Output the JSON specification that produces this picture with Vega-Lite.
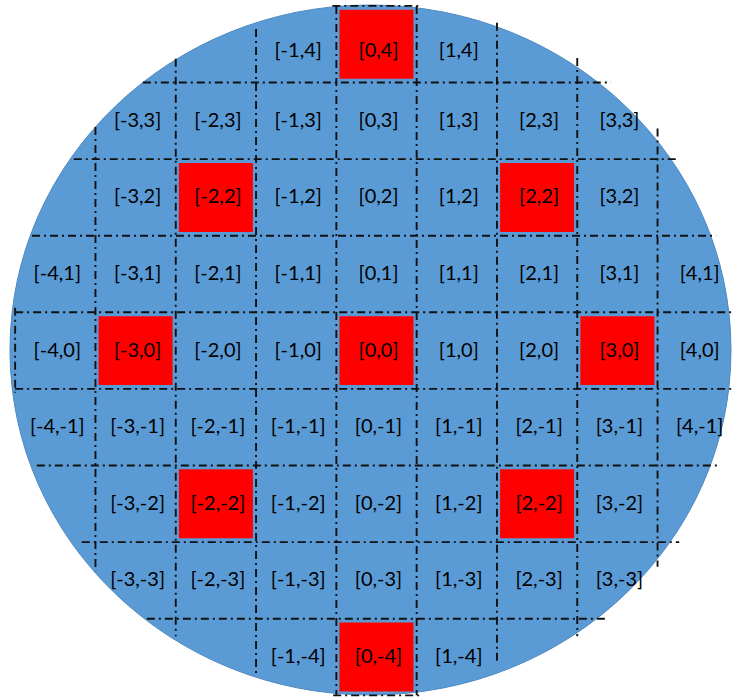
{
  "$schema": "https://vega.github.io/schema/vega-lite/v6.json",
  "width": 732,
  "height": 700,
  "autosize": {"type": "none"},
  "padding": 0,
  "background": "white",
  "config": {"view": {"stroke": null}},
  "datasets": {
    "wafer": [{"i": -0.075, "j": 0.008}],
    "dies": [
      {"i": -1, "j": 4, "label": "[-1,4]", "red": false},
      {"i": 0, "j": 4, "label": "[0,4]", "red": true},
      {"i": 1, "j": 4, "label": "[1,4]", "red": false},
      {"i": -3, "j": 3, "label": "[-3,3]", "red": false},
      {"i": -2, "j": 3, "label": "[-2,3]", "red": false},
      {"i": -1, "j": 3, "label": "[-1,3]", "red": false},
      {"i": 0, "j": 3, "label": "[0,3]", "red": false},
      {"i": 1, "j": 3, "label": "[1,3]", "red": false},
      {"i": 2, "j": 3, "label": "[2,3]", "red": false},
      {"i": 3, "j": 3, "label": "[3,3]", "red": false},
      {"i": -3, "j": 2, "label": "[-3,2]", "red": false},
      {"i": -2, "j": 2, "label": "[-2,2]", "red": true},
      {"i": -1, "j": 2, "label": "[-1,2]", "red": false},
      {"i": 0, "j": 2, "label": "[0,2]", "red": false},
      {"i": 1, "j": 2, "label": "[1,2]", "red": false},
      {"i": 2, "j": 2, "label": "[2,2]", "red": true},
      {"i": 3, "j": 2, "label": "[3,2]", "red": false},
      {"i": -4, "j": 1, "label": "[-4,1]", "red": false},
      {"i": -3, "j": 1, "label": "[-3,1]", "red": false},
      {"i": -2, "j": 1, "label": "[-2,1]", "red": false},
      {"i": -1, "j": 1, "label": "[-1,1]", "red": false},
      {"i": 0, "j": 1, "label": "[0,1]", "red": false},
      {"i": 1, "j": 1, "label": "[1,1]", "red": false},
      {"i": 2, "j": 1, "label": "[2,1]", "red": false},
      {"i": 3, "j": 1, "label": "[3,1]", "red": false},
      {"i": 4, "j": 1, "label": "[4,1]", "red": false},
      {"i": -4, "j": 0, "label": "[-4,0]", "red": false},
      {"i": -3, "j": 0, "label": "[-3,0]", "red": true},
      {"i": -2, "j": 0, "label": "[-2,0]", "red": false},
      {"i": -1, "j": 0, "label": "[-1,0]", "red": false},
      {"i": 0, "j": 0, "label": "[0,0]", "red": true},
      {"i": 1, "j": 0, "label": "[1,0]", "red": false},
      {"i": 2, "j": 0, "label": "[2,0]", "red": false},
      {"i": 3, "j": 0, "label": "[3,0]", "red": true},
      {"i": 4, "j": 0, "label": "[4,0]", "red": false},
      {"i": -4, "j": -1, "label": "[-4,-1]", "red": false},
      {"i": -3, "j": -1, "label": "[-3,-1]", "red": false},
      {"i": -2, "j": -1, "label": "[-2,-1]", "red": false},
      {"i": -1, "j": -1, "label": "[-1,-1]", "red": false},
      {"i": 0, "j": -1, "label": "[0,-1]", "red": false},
      {"i": 1, "j": -1, "label": "[1,-1]", "red": false},
      {"i": 2, "j": -1, "label": "[2,-1]", "red": false},
      {"i": 3, "j": -1, "label": "[3,-1]", "red": false},
      {"i": 4, "j": -1, "label": "[4,-1]", "red": false},
      {"i": -3, "j": -2, "label": "[-3,-2]", "red": false},
      {"i": -2, "j": -2, "label": "[-2,-2]", "red": true},
      {"i": -1, "j": -2, "label": "[-1,-2]", "red": false},
      {"i": 0, "j": -2, "label": "[0,-2]", "red": false},
      {"i": 1, "j": -2, "label": "[1,-2]", "red": false},
      {"i": 2, "j": -2, "label": "[2,-2]", "red": true},
      {"i": 3, "j": -2, "label": "[3,-2]", "red": false},
      {"i": -3, "j": -3, "label": "[-3,-3]", "red": false},
      {"i": -2, "j": -3, "label": "[-2,-3]", "red": false},
      {"i": -1, "j": -3, "label": "[-1,-3]", "red": false},
      {"i": 0, "j": -3, "label": "[0,-3]", "red": false},
      {"i": 1, "j": -3, "label": "[1,-3]", "red": false},
      {"i": 2, "j": -3, "label": "[2,-3]", "red": false},
      {"i": 3, "j": -3, "label": "[3,-3]", "red": false},
      {"i": -1, "j": -4, "label": "[-1,-4]", "red": false},
      {"i": 0, "j": -4, "label": "[0,-4]", "red": true},
      {"i": 1, "j": -4, "label": "[1,-4]", "red": false}
    ],
    "hlines": [
      {"j": 4.5, "a": -0.55, "b": 0.52},
      {"j": 3.5, "a": -2.91, "b": 2.92},
      {"j": 2.5, "a": -3.77, "b": 3.77},
      {"j": 1.5, "a": -4.29, "b": 4.23},
      {"j": 0.5, "a": -4.5, "b": 4.5},
      {"j": -0.5, "a": -4.5, "b": 4.5},
      {"j": -1.5, "a": -4.23, "b": 4.27},
      {"j": -2.5, "a": -3.67, "b": 3.77},
      {"j": -3.5, "a": -2.86, "b": 2.86},
      {"j": -4.5, "a": -0.54, "b": 0.57}
    ],
    "vlines": [
      {"i": -4.5, "a": 0.56, "b": -0.55},
      {"i": -3.5, "a": 2.92, "b": -2.88},
      {"i": -2.5, "a": 3.81, "b": -3.73},
      {"i": -1.5, "a": 4.2, "b": -4.26},
      {"i": -0.5, "a": 4.5, "b": -4.5},
      {"i": 0.5, "a": 4.5, "b": -4.5},
      {"i": 1.5, "a": 4.28, "b": -4.1},
      {"i": 2.5, "a": 3.82, "b": -3.73},
      {"i": 3.5, "a": 2.9, "b": -2.82}
    ]
  },
  "layer": [
    {
      "data": {"name": "wafer"},
      "mark": {
        "type": "point",
        "filled": true,
        "shape": "M -1 0 A 1 0.957 0 1 1 1 0 A 1 0.957 0 1 1 -1 0 Z",
        "size": 519841,
        "color": "#5b9bd5",
        "opacity": 1,
        "stroke": "#5089c0",
        "strokeWidth": 1
      },
      "encoding": {
        "x": {"field": "i", "type": "quantitative", "scale": {"domain": [-4.6887, 4.4271], "nice": false, "zero": false}, "axis": null},
        "y": {"field": "j", "type": "quantitative", "scale": {"domain": [-4.561, 4.577], "nice": false, "zero": false}, "axis": null}
      }
    },
    {
      "data": {"name": "dies"},
      "transform": [{"filter": "datum.red"}],
      "mark": {
        "type": "point",
        "filled": true,
        "shape": "M -1 -0.932 H 1 V 0.932 H -1 Z",
        "size": 5476,
        "color": "#ff0000",
        "opacity": 1
      },
      "encoding": {
        "x": {"field": "i", "type": "quantitative"},
        "y": {"field": "j", "type": "quantitative"}
      }
    },
    {
      "data": {"name": "hlines"},
      "mark": {"type": "rule", "color": "#111111", "strokeWidth": 1.9, "strokeDash": [8, 4, 2, 4]},
      "encoding": {
        "x": {"field": "a", "type": "quantitative"},
        "x2": {"field": "b"},
        "y": {"field": "j", "type": "quantitative"}
      }
    },
    {
      "data": {"name": "vlines"},
      "mark": {"type": "rule", "color": "#111111", "strokeWidth": 1.9, "strokeDash": [8, 4, 2, 4]},
      "encoding": {
        "x": {"field": "i", "type": "quantitative"},
        "y": {"field": "a", "type": "quantitative"},
        "y2": {"field": "b"}
      }
    },
    {
      "data": {"name": "dies"},
      "transform": [{"filter": "datum.j < 4"}],
      "mark": {"type": "text", "font": "Lato", "fontSize": 20, "color": "#000000", "dx": 2, "baseline": "middle", "align": "center"},
      "encoding": {
        "x": {"field": "i", "type": "quantitative"},
        "y": {"field": "j", "type": "quantitative"},
        "text": {"field": "label"}
      }
    },
    {
      "data": {"name": "dies"},
      "transform": [{"filter": "datum.j == 4"}],
      "mark": {"type": "text", "font": "Lato", "fontSize": 20, "color": "#000000", "dx": 2, "dy": 7, "baseline": "middle", "align": "center"},
      "encoding": {
        "x": {"field": "i", "type": "quantitative"},
        "y": {"field": "j", "type": "quantitative"},
        "text": {"field": "label"}
      }
    }
  ]
}
